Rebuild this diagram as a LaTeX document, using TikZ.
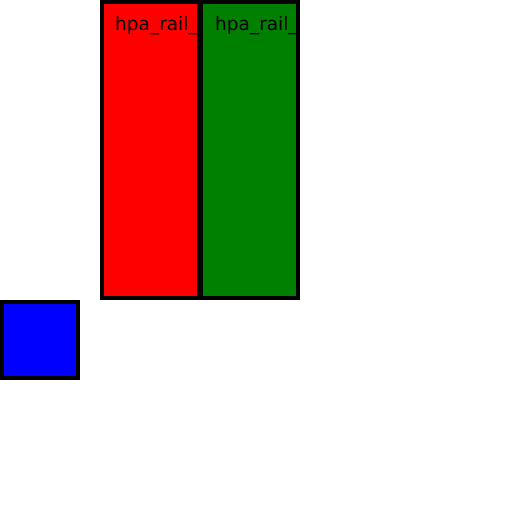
\documentclass[tikz,border=0pt]{standalone}
\usepackage{fontspec}
\setmainfont{DejaVu Sans}
\usepackage{xcolor}
\usetikzlibrary{positioning}
\definecolor{railred}{RGB}{255, 0, 0}
\definecolor{railgreen}{RGB}{0, 128, 0}
\definecolor{railblue}{RGB}{0, 0, 255}

\begin{document}
\begin{tikzpicture}[x=1pt, y=-1pt]
    \useasboundingbox (0,0) rectangle (512,512);
    \tikzset{railbox/.style={draw=black, line width=4pt},
             raillabel/.style={anchor=base west, inner sep=0pt, font=\fontsize{18.5}{21}\selectfont}}

    % Rail 0: white label only
    \begin{scope}
        \clip (0,0) rectangle (96,300);
        \node[raillabel, white] (label0) at (15,30) {hpa\_rail\_0};
    \end{scope}

    % Rail 1: red
    \draw[railbox, fill=railred] (102,2) rectangle (199,298);
    \begin{scope}
        \clip (104,4) rectangle (197,296);
        \node[raillabel] (label1) at (115,30) {hpa\_rail\_1};
    \end{scope}

    % Rail 2: green
    \draw[railbox, fill=railgreen] (201,2) rectangle (298,298);
    \begin{scope}
        \clip (203,4) rectangle (296,296);
        \node[raillabel] (label2) at (215,30) {hpa\_rail\_2};
    \end{scope}

    % Blue block
    \draw[railbox, fill=railblue] (2,302) rectangle (78,378);
\end{tikzpicture}
\end{document}
